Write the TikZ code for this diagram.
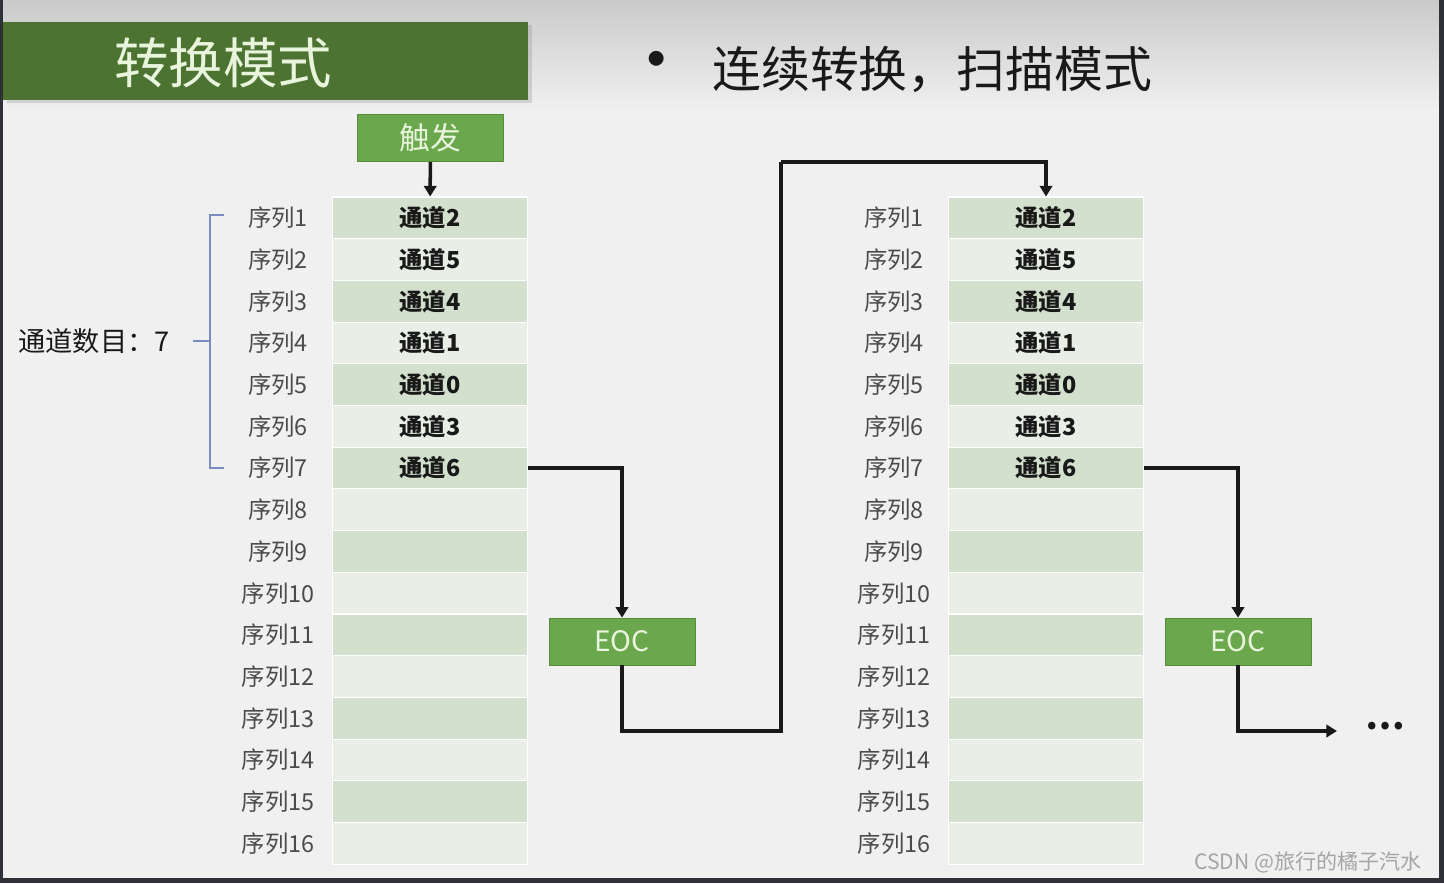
\documentclass[tikz,border=0pt]{standalone}
\usepackage{fontspec}
\setmainfont{Noto Sans CJK SC}
\usetikzlibrary{positioning,arrows.meta,calc,shadows}
\definecolor{Page}{RGB}{240,240,240}
\definecolor{Haze}{RGB}{202,202,202}
\definecolor{Frame}{RGB}{46,50,54}
\definecolor{TitleGreen}{RGB}{76,115,50}
\definecolor{BoxGreen}{RGB}{106,167,77}
\definecolor{BoxEdge}{RGB}{86,140,60}
\definecolor{PaleText}{RGB}{232,245,220}
\definecolor{RowDark}{RGB}{211,224,205}
\definecolor{RowLight}{RGB}{233,239,230}
\definecolor{Brace}{RGB}{122,140,190}
\definecolor{Ink}{RGB}{25,25,25}
\definecolor{Label}{RGB}{75,75,75}
\definecolor{Mark}{RGB}{165,165,165}

\begin{document}
\begin{tikzpicture}[x=0.02cm,y=-0.02cm,
  gbox/.style={draw=BoxEdge,fill=BoxGreen,text=PaleText,minimum width=2.92cm,minimum height=0.94cm,inner sep=0pt},
  row/.style={draw=white,line width=.6pt,minimum width=3.9cm,minimum height=0.834cm,inner sep=0pt},
  seq/.style={text=Label,font=\fontsize{13.3}{14}\selectfont},
  chan/.style={text=Ink,font=\fontsize{13.3}{14}\selectfont\bfseries},
  arr/.style={-{Triangle[length=6pt,width=7pt]},line width=2pt,Ink},
  wire/.style={line width=2pt,Ink}]
\useasboundingbox (0,0) rectangle (1444,883);
\fill[Page] (0,0) rectangle (1444,883);
\shade[top color=Haze,bottom color=Page] (0,0) rectangle (1444,110);
\fill[Frame] (0,0) rectangle (3,883);
\fill[Frame] (1439,0) rectangle (1444,883);
\fill[Frame] (0,878) rectangle (1444,883);

% title and heading
\node[fill=TitleGreen,minimum width=10.5cm,minimum height=1.56cm,inner sep=0pt,
  drop shadow={opacity=.25,shadow xshift=.08cm,shadow yshift=-.06cm}] (titlebar) at (265.5,61) {};
\node[text=PaleText,font=\fontsize{31}{34}\selectfont] (title) at (223,63) {转换模式};
\node[font=\fontsize{40}{40}\selectfont,text=Ink] (bullet) at (657,68) {•};
\node[font=\fontsize{27.8}{30}\selectfont,text=Ink,anchor=west,inner sep=0pt] (heading) at (712,70) {连续转换，扫描模式};

% sequence tables
\foreach \tb/\cx in {l/430,r/1046}{
  \foreach \i in {1,...,16}{
    \pgfmathsetmacro\ry{197+41.7*(\i-0.5)}
    \ifodd\i \def\rowfill{RowDark}\else\def\rowfill{RowLight}\fi
    \node[row,fill=\rowfill] (\tb-\i) at (\cx,\ry) {};
    \node[seq] (lab-\tb-\i) at (\cx-152,\ry) {序列\i};
  }
  \foreach \i/\ch in {1/2,2/5,3/4,4/1,5/0,6/3,7/6}
    \node[chan] (ch-\tb-\i) at (\tb-\i) {通道\ch};
}

% trigger, EOC boxes
\node[gbox,font=\fontsize{17.5}{20}\selectfont] (trig) at (430.5,138) {触发};
\node[gbox,font=\fontsize{16}{18}\selectfont] (eoc1) at (622,641.5) {EOC};
\node[gbox,font=\fontsize{16}{18}\selectfont] (eoc2) at (1238,641.5) {EOC};
\node[text=Ink,font=\fontsize{20}{22}\selectfont\bfseries] (dots) at (1385,726) {…};
\node[text=Ink,font=\fontsize{15.5}{18}\selectfont] (count) at (94,341) {通道数目：7};
\node[text=Mark,font=\fontsize{12}{13}\selectfont,anchor=east] (mark) at (1428,862) {CSDN @旅行的橘子汽水};

% brace over the first seven sequences
\draw[Brace,line width=1pt] (224,215) -- (210,215) -- (210,468) -- (224,468);
\draw[Brace,line width=1pt] (193,341) -- (210,341);

% flow
\coordinate (back) at (781,731);
\coordinate (nxt) at (1337,731);
\draw[arr] (trig) -- (l-1);
\draw[arr] (l-7.east) -| (eoc1.north);
\draw[wire] (eoc1.south) |- (back) -- (back |- trig.south);
\draw[arr] (back |- trig.south) -| (r-1.north);
\draw[arr] (r-7.east) -| (eoc2.north);
\draw[arr] (eoc2.south) |- (nxt);
\end{tikzpicture}
\end{document}
